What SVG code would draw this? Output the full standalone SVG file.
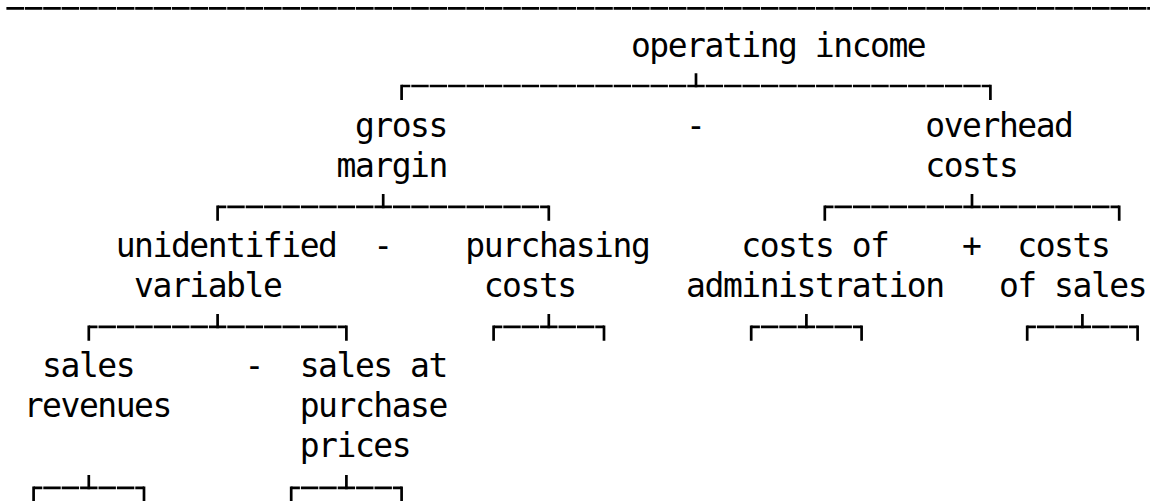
<svg xmlns="http://www.w3.org/2000/svg" width="1150" height="501" viewBox="0 0 1150 501">
  <style>
    text { font-family: "DejaVu Sans Mono", "Liberation Mono", monospace; font-size: 33px; letter-spacing: -1.47px; fill: #000; white-space: pre; }
    .rule { stroke: #000; stroke-width: 2.8; fill: none; stroke-dasharray: 17.6 0.8; }
    .bar { stroke: #000; stroke-width: 2.7; fill: none; stroke-dasharray: 17.4 1; stroke-dashoffset: 8.7; }
    .stub { stroke: #000; stroke-width: 2.7; fill: none; stroke-linecap: square; }
  </style>
  <rect width="1150" height="501" fill="#fff"/>

  <!-- grid: column c starts at x = 6 + 18.4*c, text rows 40px apart -->
  <g id="connectors">
    <!-- top rule -->
    <path class="rule" d="M6,8.3 H1150" stroke-dashoffset="18"/>

    <!-- operating income -> gross margin / overhead costs -->
    <path class="bar" d="M401.6,86 H990.4"/>
    <path class="stub" d="M401.6,98.7 V86 M990.4,98.7 V86 M696,74.5 V86"/>

    <!-- gross margin -> unidentified variable / purchasing costs -->
    <path class="bar" d="M217.6,206.8 H548.8"/>
    <path class="stub" d="M217.6,219.5 V206.8 M548.8,219.5 V206.8 M383.2,195.3 V206.8"/>

    <!-- overhead costs -> administration / sales -->
    <path class="bar" d="M824.8,206.8 H1119.2"/>
    <path class="stub" d="M824.8,219.5 V206.8 M1119.2,219.5 V206.8 M972,195.3 V206.8"/>

    <!-- unidentified variable -> sales revenues / sales at purchase prices -->
    <path class="bar" d="M88.8,326.8 H346.4"/>
    <path class="stub" d="M88.8,339.5 V326.8 M346.4,339.5 V326.8 M217.6,315.3 V326.8"/>

    <!-- leaf brackets, row 8 -->
    <path class="bar" d="M493.6,326.8 H604"/>
    <path class="stub" d="M493.6,339.5 V326.8 M604,339.5 V326.8 M548.8,315.3 V326.8"/>
    <path class="bar" d="M751.2,326.8 H861.6"/>
    <path class="stub" d="M751.2,339.5 V326.8 M861.6,339.5 V326.8 M806.4,315.3 V326.8"/>
    <path class="bar" d="M1027.2,326.8 H1137.6"/>
    <path class="stub" d="M1027.2,339.5 V326.8 M1137.6,339.5 V326.8 M1082.4,315.3 V326.8"/>

    <!-- leaf brackets, row 12 -->
    <path class="bar" d="M33.6,487.8 H144"/>
    <path class="stub" d="M33.6,500.5 V487.8 M144,500.5 V487.8 M88.8,476.3 V487.8"/>
    <path class="bar" d="M291.2,487.8 H401.6"/>
    <path class="stub" d="M291.2,500.5 V487.8 M401.6,500.5 V487.8 M346.4,476.3 V487.8"/>
  </g>

  <g id="operating-income">
    <text x="630.9" y="57">operating income</text>
  </g>

  <g id="gross-margin">
    <text x="354.9" y="137">gross</text>
    <text x="336.5" y="177">margin</text>
  </g>
  <g id="op-gross-minus-overhead">
    <text x="686.1" y="137">-</text>
  </g>
  <g id="overhead-costs">
    <text x="925.3" y="137">overhead</text>
    <text x="925.3" y="177">costs</text>
  </g>

  <g id="unidentified-variable">
    <text x="115.7" y="257">unidentified</text>
    <text x="134.1" y="297">variable</text>
  </g>
  <g id="op-variable-minus-purchasing">
    <text x="373.3" y="257">-</text>
  </g>
  <g id="purchasing-costs">
    <text x="465.3" y="257">purchasing</text>
    <text x="483.7" y="297">costs</text>
  </g>

  <g id="costs-of-administration">
    <text x="741.3" y="257">costs of</text>
    <text x="686.1" y="297">administration</text>
  </g>
  <g id="op-admin-plus-sales">
    <text x="962.1" y="257">+</text>
  </g>
  <g id="costs-of-sales">
    <text x="1017.3" y="257">costs</text>
    <text x="998.9" y="297">of sales</text>
  </g>

  <g id="sales-revenues">
    <text x="42.1" y="377">sales</text>
    <text x="23.7" y="417">revenues</text>
  </g>
  <g id="op-revenues-minus-purchase">
    <text x="244.5" y="377">-</text>
  </g>
  <g id="sales-at-purchase-prices">
    <text x="299.7" y="377">sales at</text>
    <text x="299.7" y="417">purchase</text>
    <text x="299.7" y="457">prices</text>
  </g>
</svg>
